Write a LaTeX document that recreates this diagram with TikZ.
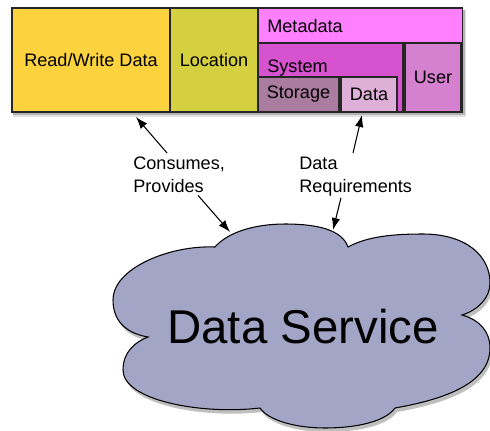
\documentclass[tikz,border=0pt]{standalone}
\usepackage{fontspec}
\setmainfont{Liberation Sans}
\usepackage{xcolor}
\usetikzlibrary{arrows.meta}

\definecolor{rwcol}{RGB}{252,211,63}
\definecolor{loccol}{RGB}{212,208,64}
\definecolor{metacol}{RGB}{255,128,255}
\definecolor{syscol}{RGB}{214,82,206}
\definecolor{usercol}{RGB}{214,128,208}
\definecolor{storcol}{RGB}{170,124,160}
\definecolor{datcol}{RGB}{222,176,216}
\definecolor{cloudcol}{RGB}{163,165,198}

\begin{document}
\begin{tikzpicture}[x=0.02cm, y=-0.02cm,
    every node/.style={font=\fontsize{10.3}{13}\selectfont},
    box/.style={draw=black!85, line width=0.6pt, inner sep=0pt, outer sep=0pt, anchor=north west},
    lbl/.style={inner sep=0pt, align=left, anchor=north west},
    arr/.style={-{Latex[length=2.4mm,width=1.7mm]}, line width=0.6pt},
    cloudpath/.style={insert path={(215,247) .. controls (228,232) and (255,224) .. (285,224)
        .. controls (318,224) and (342,230) .. (348,247)
        .. controls (368,236) and (395,234) .. (423,234)
        .. controls (465,234) and (490,255) .. (490,283)
        .. controls (490,298) and (478,310) .. (462,315)
        .. controls (480,320) and (490,332) .. (490,348)
        .. controls (490,385) and (440,400) .. (395,408)
        .. controls (385,422) and (355,428) .. (325,428)
        .. controls (295,428) and (268,420) .. (260,408)
        .. controls (200,415) and (123,400) .. (123,370)
        .. controls (123,352) and (135,342) .. (148,337)
        .. controls (125,333) and (113,320) .. (113,300)
        .. controls (113,268) and (170,245) .. (215,247) -- cycle}}]
    \useasboundingbox (0,0) rectangle (490,430);
    \fill[black, opacity=.12] (13,10) rectangle (466,117);
    \fill[black, opacity=.2] (13,10) rectangle (465,115);
    \node[box, fill=rwcol, minimum width=3.16cm, minimum height=2.08cm] (rw) at (12,8) {Read/Write Data};
    \node[box, fill=loccol, minimum width=1.76cm, minimum height=2.08cm] (loc) at (170,8) {Location};
    \node[box, fill=metacol, minimum width=4.10cm, minimum height=2.08cm] (meta) at (258,8) {};
    \node[box, fill=syscol, minimum width=2.90cm, minimum height=1.38cm] (sys) at (258,43) {};
    \node[box, fill=usercol, minimum width=1.12cm, minimum height=1.38cm] (user) at (405,43) {User};
    \node[box, fill=storcol, minimum width=1.62cm, minimum height=0.70cm] (stor) at (258,77) {Storage};
    \node[box, fill=datcol, minimum width=1.12cm, minimum height=0.70cm] (dat) at (341,77) {Data};
    \node[inner sep=0pt, anchor=west] (metalbl) at (267,26) {Metadata};
    \node[inner sep=0pt, anchor=west] (syslbl) at (267,68) {System};

    \fill[black, opacity=.25, shift={(2,4)}, cloudpath];
    \filldraw[fill=cloudcol, draw=black, line width=0.6pt, cloudpath];
    \node[inner sep=0pt, font=\fontsize{27}{32}\selectfont] (svc) at (303,327) {Data Service};
    \coordinate (cloudl) at (230,232);
    \coordinate (cloudr) at (333,230);

    \node[lbl] (cons) at (133,157) {Consumes,\\Provides};
    \node[lbl] (req) at (299,157) {Data\\Requirements};

    \draw[arr] ([shift={(34,-4)}]cons.north west) -- ([shift={(45,5)}]rw.south);
    \draw[arr] ([shift={(65,2)}]cons.south west) -- (cloudl);
    \draw[arr] ([shift={(54,-4)}]req.north west) -- ([shift={(-7,3)}]dat.south);
    \draw[arr] ([shift={(42,1)}]req.south west) -- (cloudr);
\end{tikzpicture}
\end{document}
